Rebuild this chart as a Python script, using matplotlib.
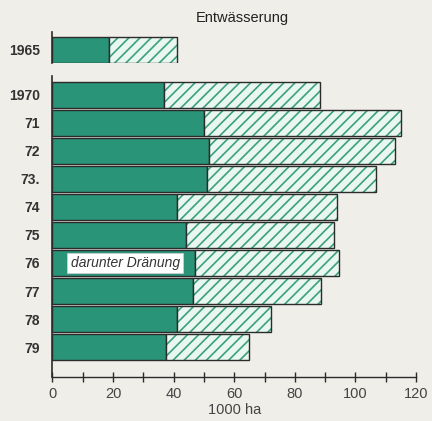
import matplotlib
matplotlib.use("Agg")
import matplotlib.pyplot as plt
import numpy as np

plt.rcParams['font.family'] = ['Liberation Sans', 'DejaVu Sans']
plt.rcParams['hatch.linewidth'] = 1.2

# Data (1000 ha)
year_top = ["1965"]
drain_top = [18.6]
total_top = [41.0]

years = ["1970", "71", "72", "73.", "74", "75", "76", "77", "78", "79"]
drainage = [36.9, 50.1, 51.6, 51.1, 41.0, 44.1, 47.0, 46.3, 41.1, 37.5]
total = [88.3, 115.0, 113.0, 106.8, 94.0, 92.9, 94.7, 88.8, 72.1, 64.9]

bg = '#efeee9'
green = '#2a9478'
hatch_green = '#3aa07f'
hatch_bg = '#eaf6f0'
edge = '#2b2b2b'
txt = '#333333'

fig = plt.figure(figsize=(4.32, 4.21), dpi=100, facecolor=bg)

def draw(ax, labels, d, t, height):
    y = np.arange(len(labels))
    rest = np.array(t) - np.array(d)
    ax.barh(y, d, height=height, color=green, edgecolor=edge, linewidth=1.0)
    # hatched fill (green hatch lines)
    ax.barh(y, rest, left=d, height=height, color=hatch_bg, edgecolor=hatch_green,
            linewidth=0, hatch='///')
    # dark outline
    ax.barh(y, rest, left=d, height=height, fill=False, edgecolor=edge,
            linewidth=1.0)
    ax.set_yticks(y)
    ax.set_yticklabels(labels, fontsize=10, fontweight='bold', color=txt)
    ax.tick_params(axis='y', length=0, pad=9)
    ax.set_facecolor(bg)
    for s in ['top', 'right']:
        ax.spines[s].set_visible(False)
    ax.spines['left'].set_color(edge)
    ax.spines['left'].set_linewidth(1.2)
    ax.set_xlim(0, 120)
    return y

# 1965 panel
ax1 = fig.add_axes([0.1215, 0.8496, 0.8415, 0.075])
draw(ax1, year_top, drain_top, total_top, 0.93)
ax1.set_ylim(0.49, -0.64)
ax1.spines['bottom'].set_visible(False)
ax1.set_xticks([])

# main panel
ax = fig.add_axes([0.1215, 0.1045, 0.8415, 0.715])
y = draw(ax, years, drainage, total, 0.95)
ax.set_ylim(9 + 30 / 28, -19 / 28)
ax.spines['bottom'].set_color(edge)
ax.spines['bottom'].set_linewidth(1.0)
ax.set_xticks(np.arange(0, 121, 20))
ax.set_xticks(np.arange(0, 121, 10), minor=True)
ax.tick_params(axis='x', which='both', direction='inout', length=7, width=1.0,
               color=edge, labelsize=10.5, labelcolor='#444444', pad=4)
ax.set_xlabel("1000 ha", fontsize=10.5, color='#444444', labelpad=1)

ax.text(24, 6, "darunter Dränung", fontsize=10, style='italic', color=txt,
        ha='center', va='center',
        bbox=dict(boxstyle='square,pad=0.25', facecolor='white',
                  edgecolor='#cccccc', linewidth=0.6))

fig.text(0.56, 0.958, "Entwässerung", fontsize=10.5, color='#222222',
         ha='center', va='center')

fig.savefig("out.png", dpi=100, facecolor=bg)
